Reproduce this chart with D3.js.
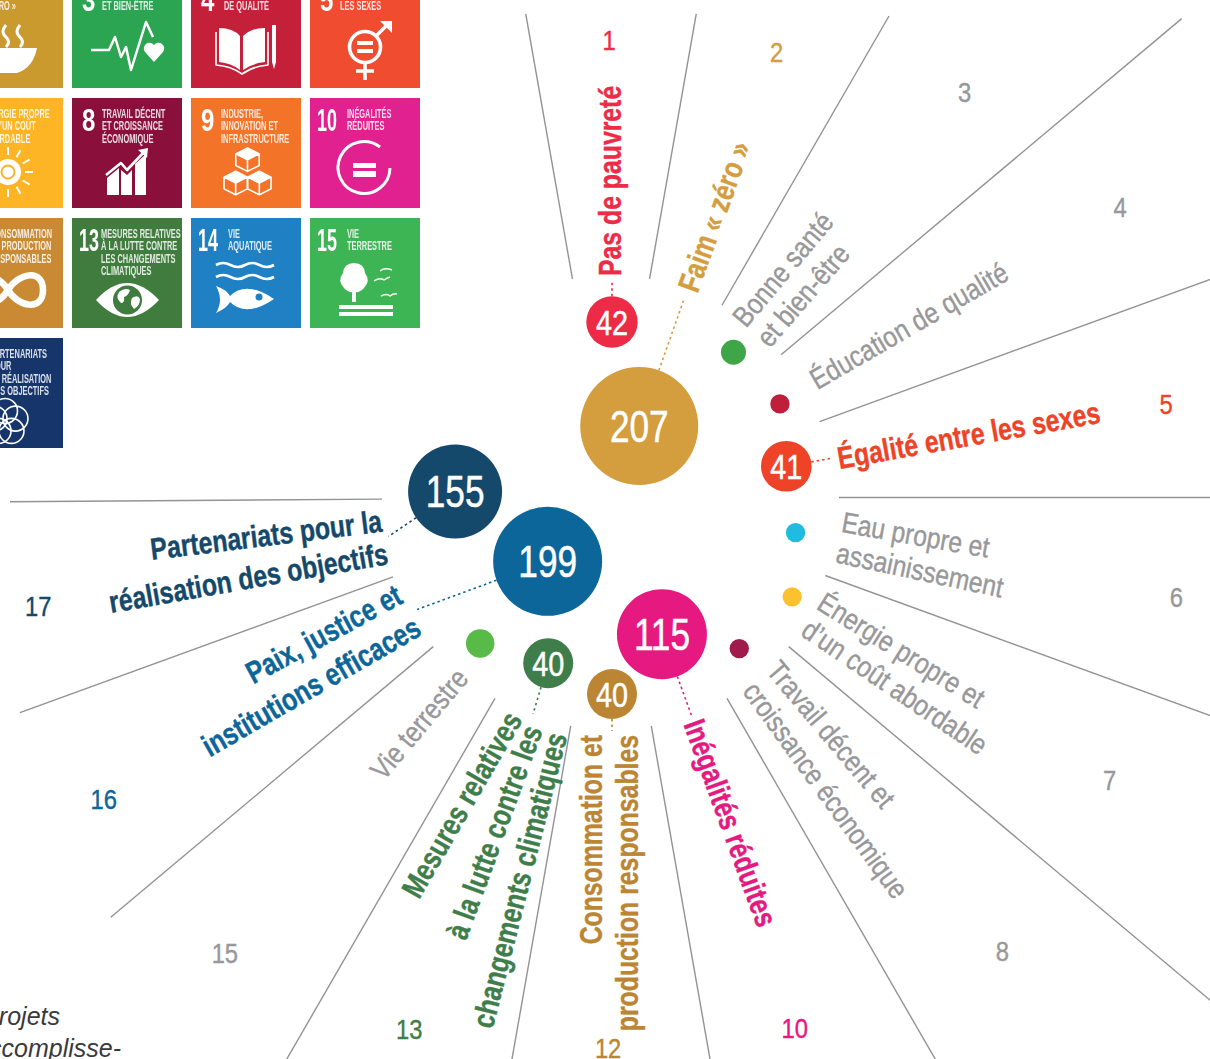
<!DOCTYPE html>
<html lang="fr">
<head>
<meta charset="utf-8">
<title>ODD</title>
<script src="https://cdn.jsdelivr.net/npm/d3@7"></script>
<style>
  html, body { margin: 0; background: #fff; overflow: hidden; }
  svg { display: block; }
  text { font-family: "Liberation Sans", Arial, sans-serif; }
</style>
</head>
<body>
<svg id="chart" width="1210" height="1059"></svg>
<script>
// Data
var goals = [1, 2, 3, 4, 5, 6, 7, 8, 10, 12, 13, 15, 16, 17];
var projects = [42, 207, 10, 6, 41, 6, 6, 6, 115, 40, 40, 13, 199, 155];
var labelled = [true, true, false, false, true, false, false, false, true, true, true, false, true, true];
var names = [
  ["Pas de pauvreté"],
  ["Faim « zéro »"],
  ["Bonne santé", "et bien-être"],
  ["Éducation de qualité"],
  ["Égalité entre les sexes"],
  ["Eau propre et", "assainissement"],
  ["Énergie propre et", "d’un coût abordable"],
  ["Travail décent et", "croissance économique"],
  ["Inégalités réduites"],
  ["Consommation et", "production responsables"],
  ["Mesures relatives", "à la lutte contre les", "changements climatiques"],
  ["Vie terrestre"],
  ["Paix, justice et", "institutions efficaces"],
  ["Partenariats pour la", "réalisation des objectifs"]
];
var colors = ["#ee2b47", "#d49d3d", "#3fa648", "#c01f3c", "#ef4327", "#20bce0", "#fcc12e", "#a01a4c", "#e5197f", "#bb8533", "#3f7e4a", "#58ba47", "#0c6699", "#14496b"];
var grey = "#98989a";

// Tiles of the goals, top left
var tileGoals = [2, 3, 4, 5, 7, 8, 9, 10, 12, 13, 14, 15, 17];
var tileColors = ["#cb9a2e", "#2ba552", "#c5203a", "#ef4c30", "#fdb526", "#8a0f3b", "#f37328", "#e0218f", "#c98a33", "#3f7c3e", "#1f80c4", "#3eb554", "#15356b"];
var tileTitles = [
  ["FAIM", "« ZÉRO »"],
  ["BONNE SANTÉ", "ET BIEN-ÊTRE"],
  ["ÉDUCATION", "DE QUALITÉ"],
  ["ÉGALITÉ ENTRE", "LES SEXES"],
  ["ÉNERGIE PROPRE", "ET D’UN COÛT", "ABORDABLE"],
  ["TRAVAIL DÉCENT", "ET CROISSANCE", "ÉCONOMIQUE"],
  ["INDUSTRIE,", "INNOVATION ET", "INFRASTRUCTURE"],
  ["INÉGALITÉS", "RÉDUITES"],
  ["CONSOMMATION", "ET PRODUCTION", "RESPONSABLES"],
  ["MESURES RELATIVES", "À LA LUTTE CONTRE", "LES CHANGEMENTS", "CLIMATIQUES"],
  ["VIE", "AQUATIQUE"],
  ["VIE", "TERRESTRE"],
  ["PARTENARIATS", "POUR", "LA RÉALISATION", "DES OBJECTIFS"]
];
var captionLines = ["projets", "accomplisse-"];

// Layout of the wheel, by sector
var cx = 611, cy = 497.5;
var spokeInner = [222, 222, 222, 222, 222, 228, 228, 232, 232, 232, 232, 232, 232, 232, 229];
var spokeOuter = [491, 491, 556, 745, 640, 600, 640, 790, 650, 575, 575, 650, 653, 629, 601];
var spokeTweak = [0, 0, 0, 0, 0, 0, 0, 0, 0, 0, 0, 0, 0, 0, -0.4];
var bubbleDist = [175, 76, 189, 192, 177, 187, 206, 198, 146, 197, 178, 197, 91, 157];
var bubbleTweak = [0, 1, 0, 1, 0, 1, -1, 0, 0, 0, 1, 2, -15, 12];
var leaderDist = [221, 216, 212, 227, 227, 230, 228, 232, 236, 238, 235, 227, 229, 231];
// one entry per line of a label: distance from the centre, shift across the spoke, extra rotation
var lineDist = [[221], [220], [215, 215], [231], [229], [231, 231], [232, 232], [232, 233], [238], [238, 238], [238, 243, 241], [231], [232, 232], [231, 231]];
var lineShift = [[-1.5], [0], [-15.5, 15.5], [0], [1], [-15.5, 15.5], [-15.5, 15.5], [-15.5, 15.5], [0], [-21, 15], [-18, 4, 29], [-2], [-23.5, 13.5], [-16.5, 16.5]];
var lineTilt = [[0], [0], [0, 1], [0], [0], [0, 2], [2, 4], [0, 4], [0], [0, 0], [10, 0, -5.7], [0], [1.5, 0], [3, 0]];
var numberDist = [457.5, 475, 538, 586, 563, 574, 573, 599, 561.5, 550, 568, 597, 590, 583];
var numberAngle = [-0.25, 20.4, 41.1, 60.3, 80.4, 100, 119.5, 139.2, 160.9, 180.3, 200.8, 220.3, 239.3, 259.3];

var svg = d3.select("#chart");

var defs = svg.append("defs");
defs.append("filter").attr("id", "soft")
  .append("feGaussianBlur").attr("stdDeviation", 0.45);

var angle = d3.scaleLinear().domain([0, 1]).range([0, 20]);
var radius = d3.scalePow().exponent(0.5)
  .domain([0, 40, 115, 155, 199, 207])
  .range([0, 25, 45, 47, 54.5, 59]);

function polar(deg, r) {
  var a = deg * Math.PI / 180;
  return [cx + r * Math.sin(a), cy - r * Math.cos(a)];
}

// 1) Tiles

var tileX = d3.scaleLinear().domain([0, 3]).range([-47, 310]);
var tileY = d3.scaleLinear().domain([0, 3]).range([-22, 338]);

var line = function(g, d, w) {
  return g.append("path").attr("d", d).attr("fill", "none").attr("stroke", "#fff")
    .attr("stroke-width", w).attr("stroke-linejoin", "round");
};
var fill = function(g, d, col) {
  return g.append("path").attr("d", d).attr("fill", col || "#fff");
};

var icons = {
  2: function(g) {
    fill(g, "M20,70 H84 Q80,90 64,95 H40 Q24,90 20,70 Z");
    [38, 53, 67].forEach(function(x) {
      line(g, "M" + x + ",47 q-6,7 0,12 q5,5 0,10", 3);
    });
  },
  3: function(g) {
    line(g, "M19,72 H37 L43,59 L49,79 L54,69 L59,92 L74,44 L81,59", 2.5);
    fill(g, "M82,84 L73,74 A5.5,5.5 0 0 1 82,67 A5.5,5.5 0 0 1 91,74 Z");
  },
  4: function(g) {
    fill(g, "M28,50 Q42,50 49,58 V92 Q40,85 28,84 Z");
    fill(g, "M74,50 Q60,50 52,58 V92 Q62,85 74,84 Z");
    line(g, "M25,54 V87 Q40,88 51,96 Q62,88 77,87 V54", 1.6);
    fill(g, "M81,47 H85 V84 L83,91 L81,84 Z");
  },
  5: function(g) {
    line(g, "M55,84 V102 M46,93 H64 M66,58 L78,46", 3.6);
    fill(g, "M70,43 H82 V55 Z");
    g.append("circle").attr("cx", 55).attr("cy", 69).attr("r", 15.5)
      .attr("fill", "none").attr("stroke", "#fff").attr("stroke-width", 3.6);
    fill(g, "M47,63 H63 V67 H47 Z M47,71 H63 V75 H47 Z");
  },
  7: function(g) {
    g.append("circle").attr("cx", 55).attr("cy", 74).attr("r", 13).attr("fill", "#fff");
    g.append("circle").attr("cx", 55).attr("cy", 74).attr("r", 6.5)
      .attr("fill", "none").attr("stroke", "#fdb526").attr("stroke-width", 2);
    d3.range(12).forEach(function(i) {
      var a = i * Math.PI / 6;
      line(g, "M" + (55 + 17 * Math.cos(a)) + "," + (74 + 17 * Math.sin(a)) +
        " L" + (55 + 25 * Math.cos(a)) + "," + (74 + 25 * Math.sin(a)), 2);
    });
  },
  8: function(g) {
    fill(g, "M35,97 V80 L47,70 V97 Z M49,97 V72 L55,77 L60,72 V97 Z M63,97 V66 L74,56 V97 Z");
    line(g, "M34,77 L49,65 L55,72 L72,54", 2.6);
    fill(g, "M66,52 L76,50 L75,60 Z");
  },
  9: function(g) {
    [[56.5, 61.7], [44.700, 85], [68.300, 85]].forEach(function(c) {
      var x = c[0], y = c[1], s = 11.7;
      fill(g, "M" + x + "," + (y - s) + " l" + s + "," + (s / 2) + " l" + (-s) + "," + (s / 2) + " l" + (-s) + "," + (-s / 2) + " Z");
      line(g, "M" + x + "," + (y - s) + " l" + s + "," + (s / 2) + " v" + s + " l" + (-s) + "," + (s / 2) +
        " l" + (-s) + "," + (-s / 2) + " v" + (-s) + " Z M" + (x - s) + "," + (y - s / 2) + " l" + s + "," + (s / 2) +
        " l" + s + "," + (-s / 2) + " M" + x + "," + y + " v" + s, 1.6);
    });
  },
  10: function(g) {
    line(g, "M70,49 A26,26 0 1 0 80,70", 3);
    fill(g, "M43,65 H66 V70 H43 Z M43,73 H66 V79 H43 Z");
  },
  12: function(g) {
    line(g, "M55,72 C45,55 20,50 20,72 C20,94 45,89 55,72 C65,55 90,50 90,72 C90,94 65,89 55,72 Z", 6.5);
  },
  13: function(g) {
    fill(g, "M24,82 Q55,48 87,82 Q55,116 24,82 Z");
    g.append("circle").attr("cx", 55.5).attr("cy", 82).attr("r", 14.5).attr("fill", "#3f7c3e");
    fill(g, "M47,74 q6,-5 11,-2 q-2,6 -6,7 q1,6 -3,6 q-6,-5 -2,-11 Z M60,80 q6,-4 8,1 q0,7 -6,10 q-5,-5 -2,-11 Z");
  },
  14: function(g) {
    line(g, "M25,47 q7,-4 14.500,0 t14.500,0 t14.500,0 t14.500,0 M25,59 q7,-4 14.500,0 t14.500,0 t14.500,0 t14.500,0", 2.6);
    fill(g, "M25,68 Q36,72 39,78 Q55,62 83,81 Q55,100 39,84 Q36,90 25,95 Q33,82 25,68 Z");
    g.append("circle").attr("cx", 68).attr("cy", 79).attr("r", 3.5).attr("fill", "#1f80c4");
  },
  15: function(g) {
    fill(g, "M44,45 q10,0 11,10 q6,8 -1,15 q-4,5 -10,4 q-6,1 -10,-4 q-7,-7 -1,-15 q1,-10 11,-10 Z");
    fill(g, "M42,72 H46 V84 H42 Z");
    fill(g, "M29,87 H83 V91 H29 Z M29,94 H83 V98 H29 Z");
    line(g, "M70,53 q5,-4 12,-1 M64,63 q6,-4 10,-1 q3,-2 6,-3 M71,78 q6,-3 9,0 q4,-3 7,-2", 1.4);
  },
  17: function(g) {
    d3.range(5).forEach(function(i) {
      var a = i * 2 * Math.PI / 5 - Math.PI / 2;
      g.append("circle").attr("cx", 52 + 11 * Math.cos(a)).attr("cy", 84 + 11 * Math.sin(a)).attr("r", 12.5)
        .attr("fill", "none").attr("stroke", "#fff").attr("stroke-width", 1.6);
    });
  }
};

var tiles = svg.append("g").selectAll("g").data(tileGoals).enter().append("g")
  .attr("transform", function(g, i) {
    return "translate(" + tileX(i % 4) + "," + tileY(Math.floor(i / 4)) + ")";
  });
tiles.append("rect").attr("width", 110).attr("height", 110)
  .attr("fill", function(g, i) { return tileColors[i]; });
var inner = tiles.append("g").attr("filter", "url(#soft)");
inner.append("text")
  .attr("transform", function(g) { return g > 9 ? "translate(7,33) scale(0.56,1)" : "translate(10,33) scale(0.75,1)"; })
  .attr("font-size", 32).attr("font-weight", 700).attr("fill", "#fff")
  .text(function(g) { return g; });
inner.each(function(g, i) {
  var t = d3.select(this);
  tileTitles[i].forEach(function(txt, k) {
    t.append("text")
      .attr("transform", "translate(" + (g > 9 ? (g == 13 ? 29 : 37) : (g == 4 ? 33 : 30)) + "," + (20 + k * 12.3) + ") scale(0.57,1)")
      .attr("font-size", 13).attr("font-weight", 700).attr("fill", "#fff").attr("fill-opacity", 0.85)
      .text(txt);
  });
  icons[g](t);
});

// 2) Wheel

// Spokes
var spokes = d3.range(15);
var spokeEnd = function(i, r) { return polar(angle(i - 0.5) + spokeTweak[i], r); };
svg.append("g").selectAll("line").data(spokes).enter().append("line")
  .attr("x1", function(i) { return spokeEnd(i, spokeInner[i])[0]; })
  .attr("y1", function(i) { return spokeEnd(i, spokeInner[i])[1]; })
  .attr("x2", function(i) { return spokeEnd(i, spokeOuter[i])[0]; })
  .attr("y2", function(i) { return spokeEnd(i, spokeOuter[i])[1]; })
  .attr("stroke", "#939395")
  .attr("stroke-width", 1.4);

// Sector labels
var labels = svg.append("g").attr("transform", "translate(1,-0.5)");
goals.forEach(function(g, i) {
  var deg = angle(i);
  var left = deg >= 180;
  var bold = labelled[i];
  var col = bold ? colors[i] : grey;
  names[i].forEach(function(txt, k) {
    labels.append("text")
      .attr("transform", "translate(" + cx + "," + cy + ") rotate(" + (deg - 90) + ") translate(" + lineDist[i][k] + ",0)" +
        (left ? " rotate(180)" : "") +
        " translate(0," + lineShift[i][k] + ") rotate(" + lineTilt[i][k] + ") scale(" + (bold ? 0.8 : 0.85) + ",1)")
      .attr("dy", "0.35em")
      .attr("text-anchor", left ? "end" : "start")
      .attr("font-size", bold ? 31 : 29)
      .attr("font-weight", bold ? 700 : 400)
      .attr("fill", col)
      .attr("stroke", col)
      .attr("stroke-width", 0.4)
      .text(txt);
  });
});

// Dotted leaders
svg.append("g").attr("transform", "translate(1,-0.5)").selectAll("line")
  .data(goals.map(function(g, i) { return i; }).filter(function(i) { return labelled[i]; }))
  .enter().append("line")
  .each(function(i) {
    var b = polar(angle(i) + bubbleTweak[i], bubbleDist[i]);
    var e = polar(angle(i), leaderDist[i] - 4);
    var d = Math.hypot(e[0] - b[0], e[1] - b[1]);
    var r = radius(projects[i]);
    d3.select(this)
      .attr("x1", b[0] + (e[0] - b[0]) * r / d)
      .attr("y1", b[1] + (e[1] - b[1]) * r / d)
      .attr("x2", e[0]).attr("y2", e[1])
      .attr("stroke", colors[i])
      .attr("stroke-width", 1.6)
      .attr("stroke-dasharray", "2.5 3");
  });

// Bubbles
var bubbles = svg.append("g").attr("transform", "translate(1,-0.5)").selectAll("g").data(goals).enter().append("g")
  .attr("transform", function(g, i) {
    var p = polar(angle(i) + bubbleTweak[i], bubbleDist[i]);
    return "translate(" + p[0] + "," + p[1] + ")";
  });
bubbles.append("circle")
  .attr("r", function(g, i) { return radius(projects[i]); })
  .attr("fill", function(g, i) { return colors[i]; });
bubbles.filter(function(g) { return labelled[goals.indexOf(g)]; }).append("text")
  .attr("transform", "scale(0.8,1)")
  .attr("text-anchor", "middle")
  .attr("dy", "0.36em")
  .attr("fill", "#fff")
  .attr("stroke", "#fff")
  .attr("stroke-width", 0.5)
  .attr("font-size", function(g) { return projects[goals.indexOf(g)] > 100 ? 44 : 36; })
  .text(function(g) { return projects[goals.indexOf(g)]; });

// Goal numbers
svg.append("g").selectAll("text").data(goals).enter().append("text")
  .attr("transform", function(g, i) {
    var p = polar(numberAngle[i], numberDist[i]);
    return "translate(" + p[0] + "," + p[1] + ") scale(0.85,1)";
  })
  .attr("dy", "0.36em")
  .attr("text-anchor", "middle")
  .attr("font-size", 28)
  .attr("fill", function(g, i) { return labelled[i] ? colors[i] : grey; })
  .attr("stroke", function(g, i) { return labelled[i] ? colors[i] : grey; })
  .attr("stroke-width", 0.4)
  .text(function(g) { return g; });

// 3) Caption cut by the page
svg.append("g").selectAll("text").data(captionLines).enter().append("text")
  .attr("x", function(d, i) { return i ? 121 : 60; })
  .attr("y", function(d, i) { return i ? 1057 : 1025; })
  .attr("text-anchor", "end")
  .attr("font-size", 25)
  .attr("font-style", "italic")
  .attr("fill", "#3a3a3c")
  .text(function(d) { return d; });
</script>
</body>
</html>
